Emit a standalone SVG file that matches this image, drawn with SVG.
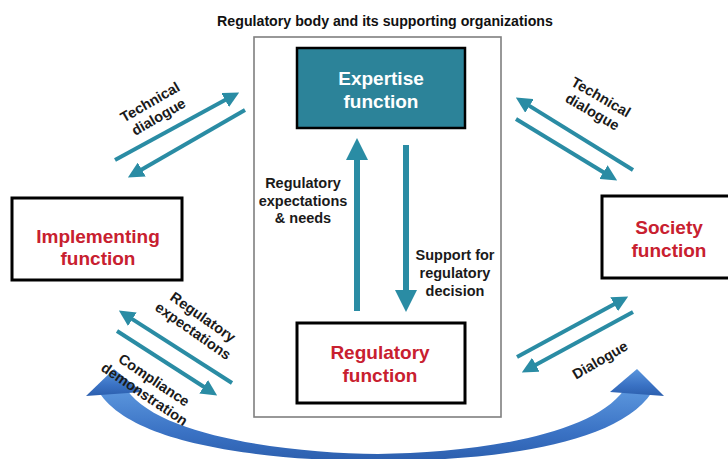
<svg xmlns="http://www.w3.org/2000/svg" width="728" height="459" viewBox="0 0 728 459">
<defs>
<style>
text{font-family:"Liberation Sans",Arial,sans-serif;font-weight:bold;}
.lbl{font-size:14.5px;fill:#1a1a1a;text-anchor:middle;}
.box{fill:#fff;stroke:#000;stroke-width:3;}
.red{font-size:19px;fill:#c8202f;text-anchor:middle;}
.wht{font-size:19px;fill:#fff;text-anchor:middle;}
.dl{stroke:#2a8ca4;stroke-width:4;fill:none;marker-end:url(#hd);}
.vl{stroke:#2a8ca4;stroke-width:6;fill:none;marker-end:url(#hv);}
</style>
<marker id="hd" viewBox="0 0 16 16" refX="1" refY="8" markerWidth="16" markerHeight="16" markerUnits="userSpaceOnUse" orient="auto"><path d="M0,0 L16,8 L0,16 Z" fill="#2a8ca4"/></marker>
<marker id="hv" viewBox="0 0 22 22" refX="1" refY="11" markerWidth="22" markerHeight="22" markerUnits="userSpaceOnUse" orient="auto"><path d="M0,0 L22,11 L0,22 Z" fill="#2a8ca4"/></marker>
<linearGradient id="bg" x1="0" y1="0" x2="0" y2="1">
<stop offset="0" stop-color="#5b96dd"/>
<stop offset="0.6" stop-color="#3a72c4"/>
<stop offset="1" stop-color="#2c5fae"/>
</linearGradient>
</defs>
<rect width="728" height="459" fill="#fff"/>

<text x="385" y="26" style="font-size:14.2px;fill:#111;text-anchor:middle;">Regulatory body and its supporting organizations</text>
<rect id="outer" x="254" y="37" width="247" height="380" fill="none" stroke="#7f7f7f" stroke-width="1.6"/>

<g id="expertise">
<rect x="297" y="48" width="168" height="80" fill="#2c8399" stroke="#000" stroke-width="2.5"/>
<text class="wht" x="381" y="85">Expertise</text>
<text class="wht" x="381" y="108">function</text>
</g>
<g id="regulatory">
<rect class="box" x="297" y="323" width="168" height="80"/>
<text class="red" x="380" y="359">Regulatory</text>
<text class="red" x="380" y="382">function</text>
</g>
<g id="implementing">
<rect class="box" x="12" y="198" width="170" height="82"/>
<text class="red" x="98" y="243">Implementing</text>
<text class="red" x="98" y="265">function</text>
</g>
<g id="society">
<rect class="box" x="602" y="196" width="140" height="82"/>
<text class="red" x="669" y="234">Society</text>
<text class="red" x="669" y="257">function</text>
</g>

<g id="connectors">
<line class="vl" x1="357" y1="311" x2="357" y2="159"/>
<line class="vl" x1="406" y1="145" x2="406" y2="291"/>
<line class="dl" x1="115" y1="160" x2="226" y2="99.6"/>
<line class="dl" x1="245" y1="110" x2="140.9" y2="170"/>
<line class="dl" x1="633" y1="170" x2="528.6" y2="105.4"/>
<line class="dl" x1="516" y1="119" x2="604.3" y2="172.7"/>
<line class="dl" x1="232" y1="383" x2="131.5" y2="318.6"/>
<line class="dl" x1="117" y1="331" x2="204.5" y2="387.3"/>
<line class="dl" x1="517" y1="357" x2="615" y2="303.7"/>
<line class="dl" x1="633" y1="312" x2="535" y2="365.3"/>
<g id="bluearc" fill="url(#bg)">
<path d="M99,392 C135,450 290,461 378,461 C470,461 615,450 652,392 L624,390 C590,437 470,453 378,454 C290,453 160,437 127,390 Z"/>
<path d="M86,396 L114,369 L142,392 Z"/>
<path d="M610,392 L637,369 L664,396 Z"/>
</g>
</g>

<g id="labels">
<text class="lbl" x="303" y="188">Regulatory</text>
<text class="lbl" x="303" y="205.5">expectations</text>
<text class="lbl" x="303" y="223">&amp; needs</text>
<text class="lbl" x="455" y="260">Support for</text>
<text class="lbl" x="455" y="278">regulatory</text>
<text class="lbl" x="455" y="296">decision</text>
<g transform="translate(150,102) rotate(-30)"><text class="lbl" x="0" y="5">Technical</text><text class="lbl" x="0" y="22">dialogue</text></g>
<g transform="translate(601,97) rotate(30)"><text class="lbl" x="0" y="5">Technical</text><text class="lbl" x="0" y="22">dialogue</text></g>
<g transform="translate(203,317) rotate(35)"><text class="lbl" x="0" y="5">Regulatory</text><text class="lbl" x="0" y="22">expectations</text></g>
<g transform="translate(154,380) rotate(34)"><text class="lbl" x="0" y="5">Compliance</text><text class="lbl" x="0" y="22">demonstration</text></g>
<g transform="translate(600,360) rotate(-30)"><text class="lbl" x="0" y="5">Dialogue</text></g>
</g>
</svg>
